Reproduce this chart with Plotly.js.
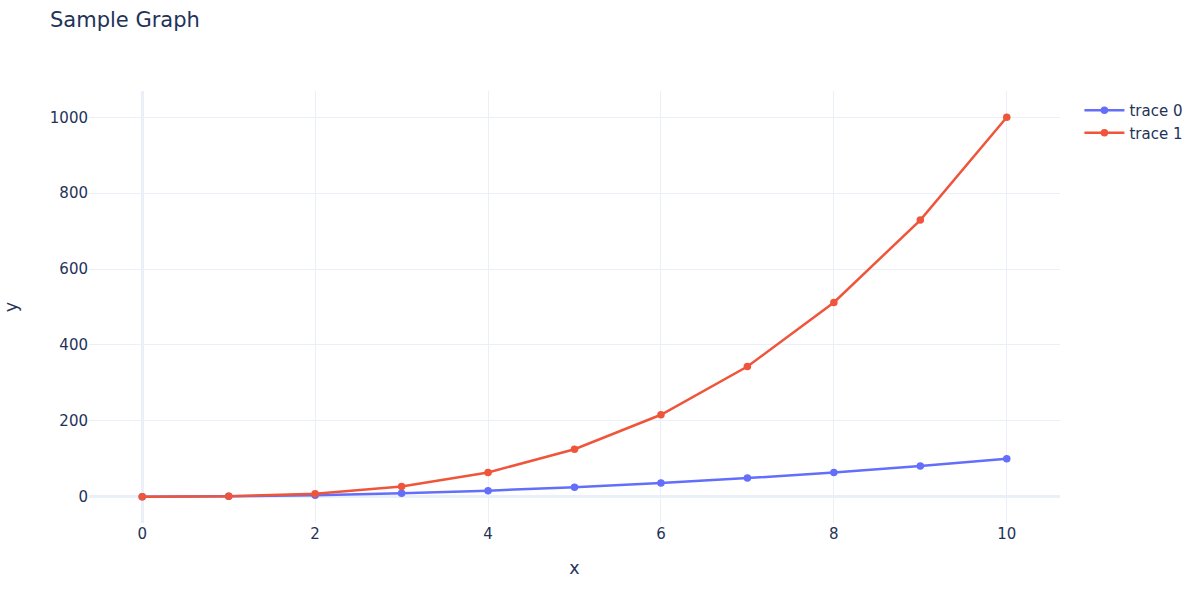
<!DOCTYPE html>
<html>
<head>
<meta charset="utf-8">
<script src="https://cdn.plot.ly/plotly-3.0.1.min.js"></script>
<style>html,body{margin:0;padding:0;background:#fff;}#chart{width:1200px;height:597px;}</style>
</head>
<body>
<div id="chart"></div>
<script>
const xValues = [0, 1, 2, 3, 4, 5, 6, 7, 8, 9, 10];
const trace0Values = [0, 1, 4, 9, 16, 25, 36, 49, 64, 81, 100];
const trace1Values = [0, 1, 8, 27, 64, 125, 216, 343, 512, 729, 1000];
const seriesNames = ['trace 0', 'trace 1'];
const seriesColors = ['#636efa', '#EF553B'];

const data = [
  {x: xValues, y: trace0Values, name: seriesNames[0], type: 'scatter', mode: 'lines+markers', line: {color: seriesColors[0], width: 2.5}, marker: {color: seriesColors[0], size: 7.5}},
  {x: xValues, y: trace1Values, name: seriesNames[1], type: 'scatter', mode: 'lines+markers', line: {color: seriesColors[1], width: 2.5}, marker: {color: seriesColors[1], size: 7.5}}
];

const gridColor = '#EBF0F8';
const layout = {
  width: 1200, height: 597,
  margin: {l: 89, r: 140, t: 91, b: 74, autoexpand: false},
  paper_bgcolor: 'white', plot_bgcolor: 'white',
  font: {family: '"DejaVu Sans", Verdana, sans-serif', color: '#1f3358', size: 15},
  title: {text: 'Sample Graph', x: 50 / 1200, xanchor: 'left', xref: 'container', y: 1 - 20 / 597, yanchor: 'middle', yref: 'container', font: {size: 21}},
  xaxis: {title: {text: 'x', font: {size: 17.5}, standoff: 19}, gridcolor: gridColor, gridwidth: 1.25, zerolinecolor: gridColor, zerolinewidth: 2.5, showline: false, ticks: '', automargin: true},
  yaxis: {title: {text: 'y', font: {size: 17.5}, standoff: 27}, gridcolor: gridColor, gridwidth: 1.25, zerolinecolor: gridColor, zerolinewidth: 2.5, showline: false, ticks: '', automargin: true},
  legend: {font: {size: 15}, itemwidth: 40, y: 0.993},
  hovermode: 'closest',
  showlegend: true
};
Plotly.newPlot('chart', data, layout, {displayModeBar: false});
</script>
</body>
</html>
